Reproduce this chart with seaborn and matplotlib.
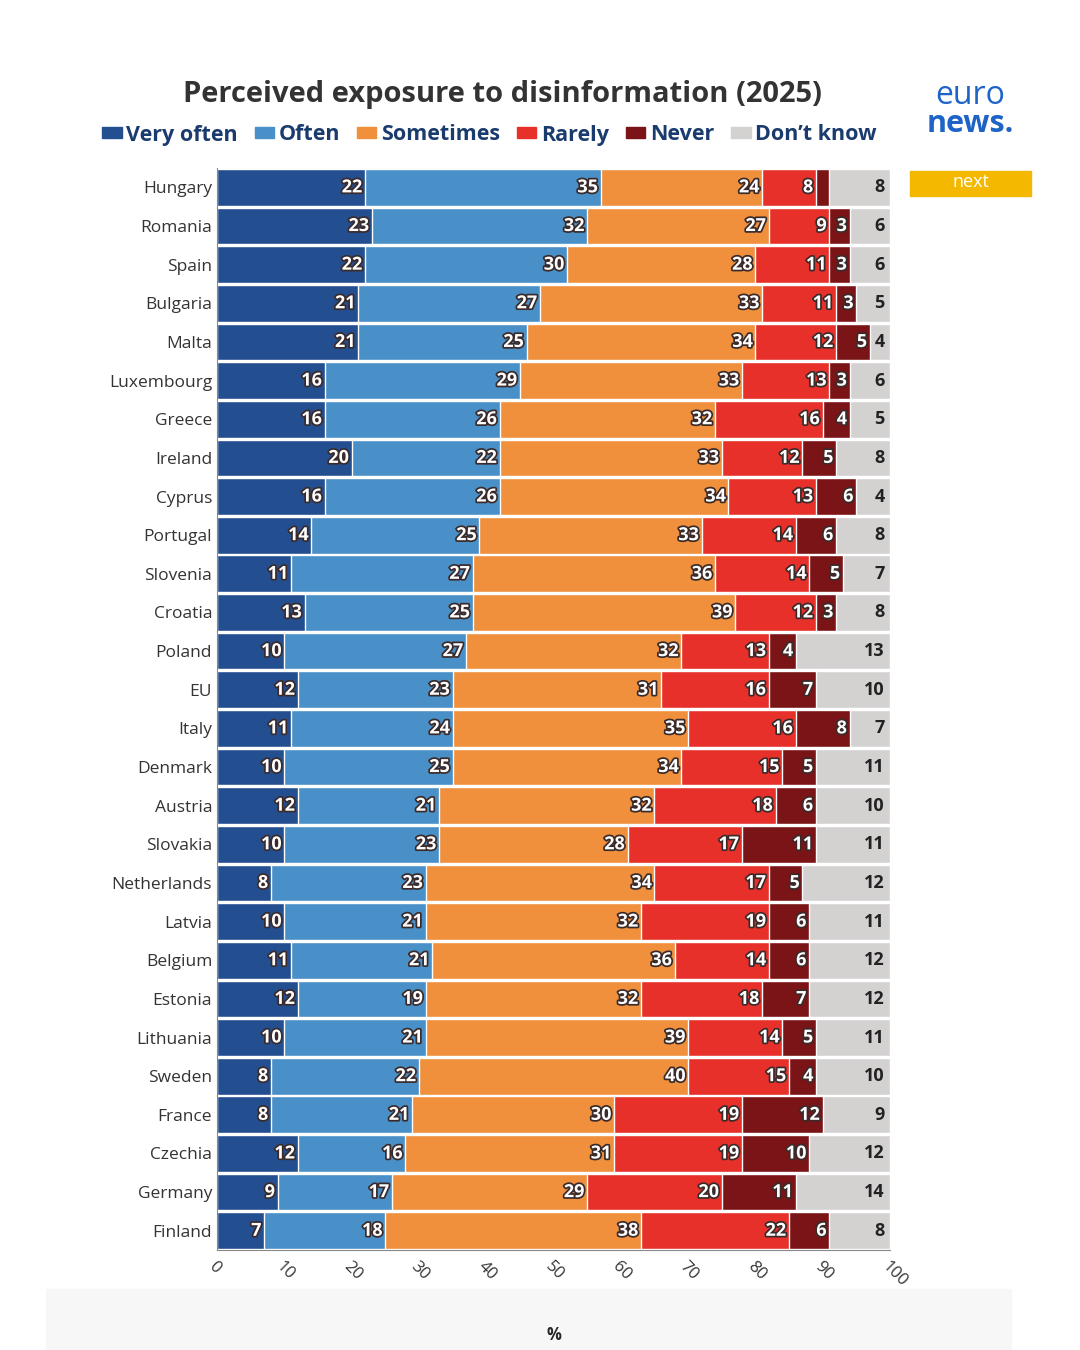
import matplotlib
matplotlib.use("Agg")
import matplotlib.pyplot as plt
import matplotlib.patheffects as pe
import seaborn as sns
import pandas as pd
import numpy as np

countries = ["Hungary","Romania","Spain","Bulgaria","Malta","Luxembourg","Greece","Ireland","Cyprus",
             "Portugal","Slovenia","Croatia","Poland","EU","Italy","Denmark","Austria","Slovakia",
             "Netherlands","Latvia","Belgium","Estonia","Lithuania","Sweden","France","Czechia","Germany","Finland"]
very_often = [22,23,22,21,21,16,16,20,16,14,11,13,10,12,11,10,12,10,8,10,11,12,10,8,8,12,9,7]
often      = [35,32,30,27,25,29,26,22,26,25,27,25,27,23,24,25,21,23,23,21,21,19,21,22,21,16,17,18]
sometimes  = [24,27,28,33,34,33,32,33,34,33,36,39,32,31,35,34,32,28,34,32,36,32,39,40,30,31,29,38]
rarely     = [8,9,11,11,12,13,16,12,13,14,14,12,13,16,16,15,18,17,17,19,14,18,14,15,19,19,20,22]
never      = [2,3,3,3,5,3,4,5,6,6,5,3,4,7,8,5,6,11,5,6,6,7,5,4,12,10,11,6]
dont_know  = [8,6,6,5,4,6,5,8,4,8,7,8,13,10,7,11,10,11,12,11,12,12,11,10,9,12,14,8]
series_names = ["Very often","Often","Sometimes","Rarely","Never","Don\u2019t know"]
colors = ["#234f91","#4a90c8","#f0903c","#e8302a","#7a1416","#d4d1d1"]
series = [very_often, often, sometimes, rarely, never, dont_know]

sns.set_style("white")
plt.rcParams["font.family"] = ["Open Sans", "DejaVu Sans"]
fig = plt.figure(figsize=(10.8,13.5), dpi=100)
ax = fig.add_axes([0.201,0.074,0.623,0.8015])

cums = np.cumsum(np.array(series), axis=0)
cums[-1] = 100
df = pd.DataFrame({"country": countries})
for k in range(len(series)-1, -1, -1):
    df["v"] = cums[k]
    sns.barplot(data=df, x="v", y="country", orient="h", color=colors[k], width=0.95,
                edgecolor="white", linewidth=1.0, saturation=1, ax=ax)

stroke = [pe.withStroke(linewidth=2.5, foreground="#3a2a2a")]
for i in range(len(countries)):
    for k in range(len(series)):
        val = series[k][i]
        end = cums[k][i]
        if k == 4 and val < 3:
            continue
        if k == 5:
            ax.text(99.2, i, str(val), ha="right", va="center", fontsize=13, fontweight="bold", color="#222222")
        else:
            ax.text(end-0.4, i, str(val), ha="right", va="center", fontsize=13, fontweight="bold",
                    color="white", path_effects=stroke)

ax.set_xlim(0,100)
ax.set_ylim(len(countries)-0.5, -0.5)
ax.set_xticks(range(0,101,10))
ax.set_xticklabels([str(t) for t in range(0,101,10)], rotation=-45, ha="left", rotation_mode="anchor",
                   fontsize=12, color="#333333")
ax.set_ylabel("")
ax.set_xlabel("%", fontsize=12, fontweight="bold", labelpad=26)
ax.tick_params(axis="y", labelsize=12.5, length=0, labelcolor="#333333")
ax.tick_params(axis="x", length=0, pad=6)
for s in ["top","right"]:
    ax.spines[s].set_visible(False)
ax.spines["bottom"].set_color("#888888")
ax.spines["left"].set_color("#888888")

fig.text(0.465, 0.93, "Perceived exposure to disinformation (2025)", ha="center", va="center",
         fontsize=21, fontweight="bold", color="#333333")
handles = [plt.Rectangle((0,0),1,1,color=c) for c in colors]
leg = fig.legend(handles, series_names, loc="center", bbox_to_anchor=(0.453,0.9), ncol=6, frameon=False,
                 handlelength=0.9, handleheight=0.4, handletextpad=0.2, columnspacing=0.8,
                 prop={"size":15.5,"weight":"bold"})
for t in leg.get_texts():
    t.set_color("#1a3b6e")

fig.text(0.898, 0.929, "euro", ha="center", va="center", fontsize=23, color="#1e63c7")
fig.text(0.898, 0.908, "news.", ha="center", va="center", fontsize=22, fontweight="bold", color="#1e63c7")
fig.patches.append(plt.Rectangle((0.843,0.855),0.112,0.018, transform=fig.transFigure, color="#f5b800"))
fig.text(0.899, 0.865, "next", ha="center", va="center", fontsize=13, color="white")
fig.patches.append(plt.Rectangle((0.043,0.0),0.893,0.045, transform=fig.transFigure, color="#f7f7f7", zorder=-1))
fig.savefig("out.png", dpi=100)
